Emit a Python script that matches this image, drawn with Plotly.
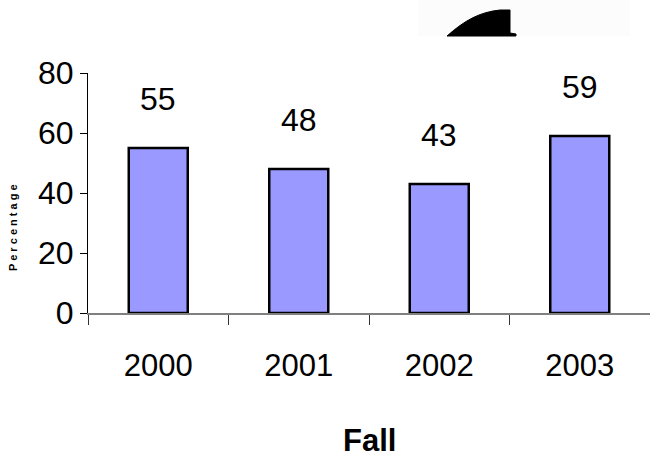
import plotly.graph_objects as go

years = ["2000", "2001", "2002", "2003"]
values = [55, 48, 43, 59]
y_ticks = [0, 20, 40, 60, 80]

W, H = 650, 457
L, R, T, B = 88, 0, 73, 144
pw, ph = W - L - R, H - T - B

def px(x):
    return (x - L) / pw

def py(y):
    return (H - B - y) / ph

FONT = "Liberation Sans Narrow, Arial Narrow, Liberation Sans, Arial, sans-serif"

fig = go.Figure()
fig.add_trace(go.Bar(
    x=years, y=values, width=0.42,
    marker=dict(color="#9999FF", line=dict(color="black", width=2.5)),
    hoverinfo="skip",
))

for i, v in enumerate(values):
    fig.add_annotation(x=i, y=v, text=str(v), showarrow=False, yanchor="middle",
                       yshift=49, font=dict(family=FONT, size=32, color="black"))

fig.add_annotation(xref="paper", yref="paper", x=0.5, y=py(440), yanchor="middle",
                   text="<b>Fall</b>", showarrow=False,
                   font=dict(family=FONT, size=31, color="black"))
fig.add_annotation(xref="paper", yref="paper", x=px(13), y=py(228), yanchor="middle",
                   xanchor="center",
                   text="<b>P e r c e n t a g e</b>", textangle=-90, showarrow=False,
                   font=dict(family="Liberation Sans, Arial", size=11, color="black"))

# faint box and decorative clipped shape at top
fig.add_shape(type="rect", xref="paper", yref="paper",
              x0=px(418), x1=px(630), y0=py(36), y1=py(0),
              fillcolor="#fcfcfc", line=dict(width=0), layer="below")
path = ("M {0},{1} C {2},{3} {4},{5} {6},{7} L {8},{9} L {10},{11} L {12},{13} L {14},{15} Z").format(
    px(447), py(36), px(465), py(20), px(480), py(12), px(500), py(10),
    px(510), py(10), px(510), py(33), px(516), py(34), px(516), py(36))
fig.add_shape(type="path", path=path, xref="paper", yref="paper",
              fillcolor="black", line=dict(color="black", width=1))

fig.update_layout(
    width=W, height=H,
    margin=dict(l=L, r=R, t=T, b=B, pad=0),
    paper_bgcolor="white", plot_bgcolor="white",
    showlegend=False,
    xaxis=dict(
        type="category", range=[-0.5, 3.5],
        showline=True, linecolor="#808080", linewidth=1.5,
        ticks="outside", tickson="boundaries", ticklen=10, tickcolor="#333333", tickwidth=1,
        showgrid=False, zeroline=False,
        tickfont=dict(family=FONT, size=31, color="black"),
        ticklabelstandoff=24,
    ),
    yaxis=dict(
        range=[0, 80], tickvals=y_ticks,
        showline=True, linecolor="black", linewidth=1,
        ticks="outside", ticklen=7, tickcolor="black",
        showgrid=False, zeroline=False,
        tickfont=dict(family=FONT, size=32, color="black"),
    ),
    bargap=0.58,
)

fig.write_html("out.html")
